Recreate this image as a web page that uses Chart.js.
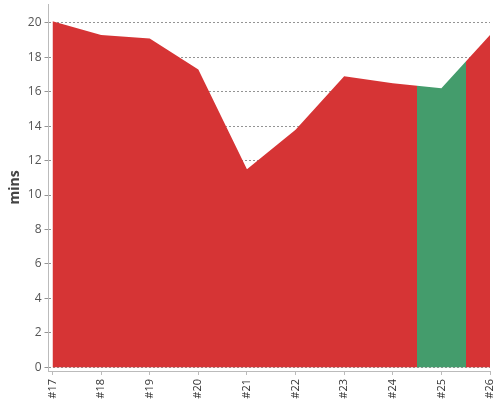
<!DOCTYPE html>
<html><head><meta charset="utf-8">
<script src="https://cdn.jsdelivr.net/npm/chart.js@4/dist/chart.umd.min.js"></script>
<style>html,body{margin:0;padding:0;background:#fff}#wrap{width:500px;height:400px}</style>
</head><body><div id="wrap"><canvas id="c"></canvas></div>
<script>
const categories = ['#17','#18','#19','#20','#21','#22','#23','#24','#25','#26'];
const minutes = [20.1, 19.3, 19.1, 17.3, 11.5, 13.8, 16.9, 16.5, 16.2, 19.3];
const highlightCategory = '#25';
const yTicks = [0, 2, 4, 6, 8, 10, 12, 14, 16, 18, 20];
const yTitle = 'mins';

const RED = '#d63435';
const GREEN = '#449c6c';

function areaColor(ctx) {
  const chart = ctx.chart;
  const area = chart.chartArea;
  const xs = chart.scales && chart.scales.x;
  if (!area || !xs) return RED;
  const i = categories.indexOf(highlightCategory);
  const x1 = xs.getPixelForValue(i - 0.5);
  const x2 = xs.getPixelForValue(i + 0.5);
  const w = area.right - area.left;
  const f1 = Math.max(0, Math.min(1, (x1 - area.left) / w));
  const f2 = Math.max(0, Math.min(1, (x2 - area.left) / w));
  const g = chart.ctx.createLinearGradient(area.left, 0, area.right, 0);
  g.addColorStop(0, RED); g.addColorStop(f1, RED);
  g.addColorStop(f1, GREEN); g.addColorStop(f2, GREEN);
  g.addColorStop(f2, RED); g.addColorStop(1, RED);
  return g;
}

const points = minutes.map((v, i) => ({x: i, y: v}));

new Chart(document.getElementById('c'), {
  type: 'line',
  data: {
    datasets: [{
      data: points,
      fill: 'origin',
      backgroundColor: areaColor,
      borderWidth: 0,
      borderColor: 'rgba(0,0,0,0)',
      pointRadius: 0,
      tension: 0
    }]
  },
  options: {
    responsive: true,
    maintainAspectRatio: false,
    animation: false,
    layout: {padding: {top: 4, right: 10, bottom: 0, left: 7}},
    plugins: {legend: {display: false}, tooltip: {enabled: false}},
    scales: {
      x: {
        type: 'linear',
        min: -0.082,
        max: categories.length - 1,
        afterBuildTicks: s => { s.ticks = categories.map((c, i) => ({value: i})); },
        afterFit: s => { s.paddingRight = 0; s.height = 29; },
        ticks: {
          callback: v => categories[v],
          autoSkip: false,
          maxRotation: 90,
          minRotation: 90,
          padding: 4,
          color: '#333',
          font: {family: 'Open Sans', size: 11}
        },
        grid: {drawOnChartArea: false, drawTicks: true, tickLength: 4, color: '#bbb'},
        border: {color: '#bbb'}
      },
      y: {
        type: 'linear',
        min: -0.22,
        max: 21.1,
        z: 1,
        afterBuildTicks: s => { s.ticks = yTicks.map(v => ({value: v})); },
        afterFit: s => { s.paddingTop = 0; s.paddingBottom = 0; },
        ticks: {
          padding: 3,
          color: '#555',
          font: {family: 'Open Sans', size: 12}
        },
        grid: {color: 'rgba(0,0,0,0.42)', tickLength: 4},
        border: {color: '#bbb', dash: [2, 2]},
        title: {
          display: true,
          text: yTitle,
          color: '#444',
          font: {family: 'Open Sans', size: 14, weight: 'bold'},
          padding: {top: 0, bottom: 1}
        }
      }
    }
  }
});
</script>
</body></html>
